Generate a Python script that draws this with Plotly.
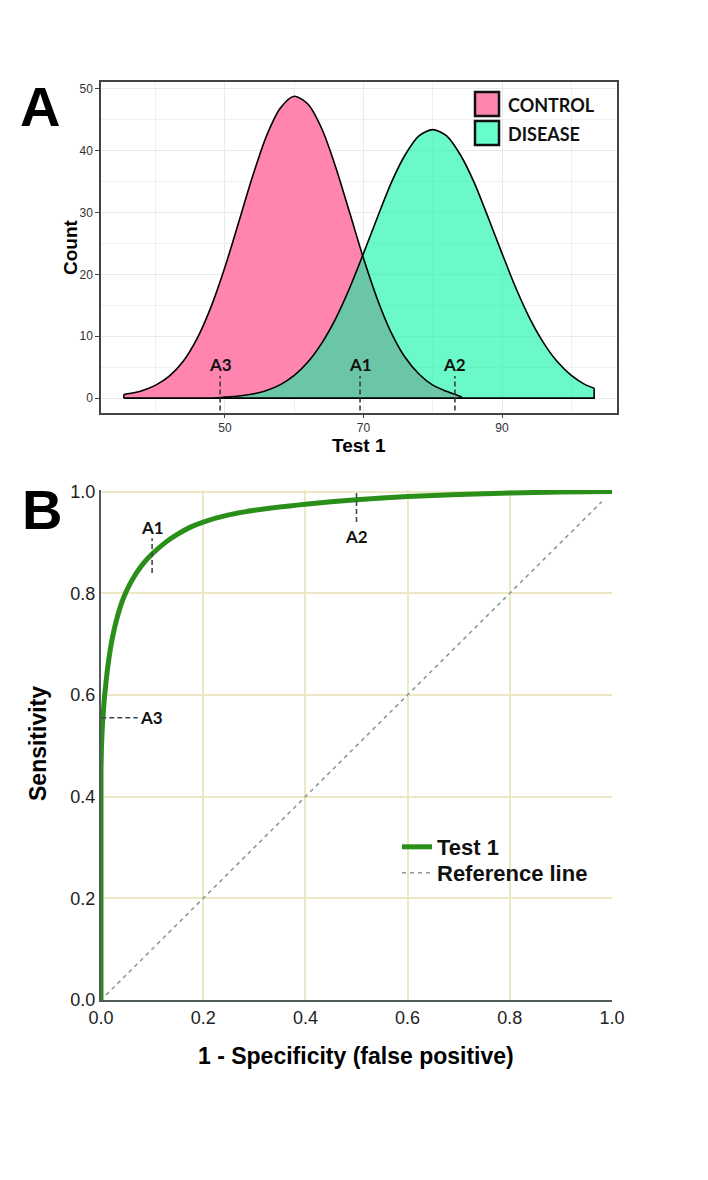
import plotly.graph_objects as go

W, H = 708, 1180
OFF = 8  # page body margin of the html page

# ---------------- Panel A data ----------------
ctrl_x = [35.4, 36, 38, 40, 42, 44, 46, 48, 50, 52, 54, 56, 58, 60, 62, 64, 66, 68, 70, 72, 74, 76, 78, 80, 82, 84.2]
ctrl_y = [0.6, 0.7, 1.2, 2.1, 3.6, 6.0, 9.7, 14.8, 21.2, 28.5, 35.9, 42.4, 46.9, 48.8, 47.5, 43.5, 37.3, 30.0, 22.6, 16.0, 10.6, 6.6, 3.9, 2.1, 1.1, 0.2]
dis_x = [48.5, 50, 52, 54, 56, 58, 60, 62, 64, 66, 68, 70, 72, 74, 76, 78, 80, 82, 84, 86, 88, 90, 92, 94, 96, 98, 100, 102, 103.3]
dis_y = [0.0, 0.17, 0.34, 0.67, 1.24, 2.18, 3.67, 5.87, 8.94, 12.9, 17.8, 23.4, 29.2, 34.8, 39.3, 42.4, 43.4, 42.4, 39.3, 34.8, 29.2, 23.4, 17.8, 12.9, 8.94, 5.87, 3.67, 2.18, 1.6]
a_x_ticks = [50, 70, 90]
a_y_ticks = [0, 10, 20, 30, 40, 50]
a_cut_names = ["A1", "A2", "A3"]
a_cut_x = [69.5, 83.2, 49.3]
a_legend = ["CONTROL", "DISEASE"]

# ---------------- Panel B data ----------------
roc_x = [0, 0, 0.0005, 0.001, 0.002, 0.003, 0.0045, 0.0065, 0.0085, 0.012, 0.016, 0.02, 0.025, 0.03, 0.035,
         0.04, 0.047, 0.055, 0.065, 0.075, 0.085, 0.1, 0.125, 0.15, 0.175, 0.2, 0.25, 0.3, 0.4, 0.5,
         0.6, 0.7, 0.8, 0.9, 1.0]
roc_y = [0, 0.45, 0.48, 0.5, 0.525, 0.545, 0.565, 0.592, 0.612, 0.645, 0.675, 0.7, 0.725, 0.746, 0.764,
         0.78, 0.798, 0.815, 0.833, 0.848, 0.861, 0.877, 0.899, 0.916, 0.93, 0.94, 0.954, 0.963, 0.975, 0.984,
         0.99, 0.994, 0.997, 0.999, 1.0]
ref_x = [0.01, 0.98]
ref_y = [0.01, 0.98]
b_ticks = [0.0, 0.2, 0.4, 0.6, 0.8, 1.0]
b_cut_names = ["A1", "A2", "A3"]

PINK = "rgb(255,133,176)"
GREEN_A = "rgba(0,245,160,0.58)"
LEG_GREEN = "rgb(102,255,204)"
ROC_GREEN = "#2a8f18"
GRIDA = "#e6ebf0"
GRIDB = "#ece8c4"


def px(xp):
    return (xp - OFF) / W


def py(yp):
    return 1 - (yp - OFF) / H


fig = go.Figure()

# Control fill
fig.add_trace(go.Scatter(
    x=ctrl_x, y=ctrl_y, fill="tozeroy", fillcolor=PINK, mode="lines",
    line=dict(width=0, color=PINK, shape="spline", smoothing=0.8),
    xaxis="x", yaxis="y", showlegend=False, hoverinfo="skip"))
# Disease fill with outline
fig.add_trace(go.Scatter(
    x=dis_x, y=dis_y, fill="tozeroy", fillcolor=GREEN_A, mode="lines",
    line=dict(color="black", width=1.6, shape="spline", smoothing=0.8),
    xaxis="x", yaxis="y", showlegend=False, hoverinfo="skip"))
# Control outline on top
fig.add_trace(go.Scatter(
    x=ctrl_x, y=ctrl_y, mode="lines", line=dict(color="black", width=1.6, shape="spline", smoothing=0.8),
    xaxis="x", yaxis="y", showlegend=False, hoverinfo="skip"))
# Baselines / end edges of the two density polygons
fig.add_trace(go.Scatter(
    x=[ctrl_x[0], ctrl_x[0], None, ctrl_x[0], dis_x[-1], dis_x[-1]],
    y=[ctrl_y[0], 0, None, 0, 0, dis_y[-1]], mode="lines",
    line=dict(color="black", width=1.6), xaxis="x", yaxis="y", showlegend=False, hoverinfo="skip"))

# Panel B traces
fig.add_trace(go.Scatter(
    x=ref_x, y=ref_y, mode="lines", name="<b>Reference line</b>",
    line=dict(color="#8c9a9a", width=1.6, dash="4px,4px"),
    xaxis="x2", yaxis="y2", legend="legend2"))
fig.add_trace(go.Scatter(
    x=roc_x, y=roc_y, mode="lines", name="<b>Test 1</b>",
    line=dict(color=ROC_GREEN, width=5, shape="spline", smoothing=0.6),
    xaxis="x2", yaxis="y2", legend="legend"))

shapes = []
annotations = []

# Panel A cut markers
for name, cx in zip(a_cut_names, a_cut_x):
    shapes.append(dict(type="line", xref="x", yref="y", x0=cx, x1=cx, y0=-2.0, y1=3.6,
                       line=dict(color="#3d3d3d", width=1.6, dash="5px,3px")))
    annotations.append(dict(x=cx, y=3.5, xref="x", yref="y", text=f"<b>{name}</b>", showarrow=False,
                            xanchor="center", yanchor="bottom", font=dict(family="Lato", size=17, color="#111")))

# Panel A legend (manual)
leg_fills = [PINK, LEG_GREEN]
leg_y = [92, 121]
for lab, fc, y0 in zip(a_legend, leg_fills, leg_y):
    shapes.append(dict(type="rect", xref="paper", yref="paper", x0=px(475), x1=px(499),
                       y0=py(y0 + 24), y1=py(y0), fillcolor=fc, line=dict(color="#111", width=2.5)))
    annotations.append(dict(x=px(506), y=py(y0 + 13), xref="paper", yref="paper", text=f"<b>{lab}</b>",
                            showarrow=False, xanchor="left", yanchor="middle",
                            font=dict(family="Lato", size=18, color="#111")))

# Panel B cut markers
b_seg = {"A1": (0.1, 0.1, 0.84, 0.908), "A2": (0.5, 0.5, 0.94, 1.005), "A3": (-0.015, 0.072, 0.555, 0.555)}
for name in b_cut_names:
    x0, x1, y0, y1 = b_seg[name]
    shapes.append(dict(type="line", xref="x2", yref="y2", x0=x0, x1=x1, y0=y0, y1=y1,
                       line=dict(color="#3a4a55", width=1.6, dash="5px,3px")))
annotations.append(dict(x=0.1, y=0.905, xref="x2", yref="y2", text="<b>A1</b>", showarrow=False,
                        xanchor="center", yanchor="bottom", font=dict(family="Lato", size=17, color="#111")))
annotations.append(dict(x=0.5, y=0.937, xref="x2", yref="y2", text="<b>A2</b>", showarrow=False,
                        xanchor="center", yanchor="top", font=dict(family="Lato", size=17, color="#111")))
annotations.append(dict(x=0.072, y=0.555, xref="x2", yref="y2", text="<b>A3</b>", showarrow=False,
                        xanchor="left", yanchor="middle", font=dict(family="Lato", size=17, color="#111")))

# Panel letters
annotations.append(dict(x=px(40), y=py(106), xref="paper", yref="paper", text="<b>A</b>", showarrow=False,
                        xanchor="center", yanchor="middle",
                        font=dict(family="Liberation Sans", size=56, color="black")))
annotations.append(dict(x=px(42), y=py(509), xref="paper", yref="paper", text="<b>B</b>", showarrow=False,
                        xanchor="center", yanchor="middle",
                        font=dict(family="Liberation Sans", size=56, color="black")))

# Axis titles
annotations.append(dict(x=px(71), y=py(247), xref="paper", yref="paper", text="<b>Count</b>", showarrow=False,
                        xanchor="center", yanchor="middle", textangle=-90,
                        font=dict(family="Liberation Sans", size=19, color="black")))
annotations.append(dict(x=px(359), y=py(445), xref="paper", yref="paper", text="<b>Test 1</b>", showarrow=False,
                        xanchor="center", yanchor="middle",
                        font=dict(family="Liberation Sans", size=19, color="black")))
annotations.append(dict(x=px(38), y=py(744), xref="paper", yref="paper", text="<b>Sensitivity</b>", showarrow=False,
                        xanchor="center", yanchor="middle", textangle=-90,
                        font=dict(family="Liberation Sans", size=23, color="black")))
annotations.append(dict(x=px(356), y=py(1056), xref="paper", yref="paper", text="<b>1 - Specificity (false positive)</b>",
                        showarrow=False, xanchor="center", yanchor="middle",
                        font=dict(family="Liberation Sans", size=23, color="black")))

fig.update_layout(
    width=W, height=H, margin=dict(l=0, r=0, t=0, b=0),
    paper_bgcolor="white", plot_bgcolor="white",
    font=dict(family="Liberation Sans", color="#222"),
    shapes=shapes, annotations=annotations,
    xaxis=dict(domain=[px(101), px(617)], anchor="y", range=[32.1, 106.6], automargin=False,
               tickvals=a_x_ticks, showline=True, mirror=True, linecolor="#444", linewidth=1.5,
               ticks="outside", ticklen=3, tickcolor="#444", tickfont=dict(size=12, color="#333"),
               showgrid=True, gridcolor=GRIDA, gridwidth=1, zeroline=False,
               minor=dict(tickvals=[40, 60, 80, 100], showgrid=True, gridcolor="#eef1f4", ticks="")),
    yaxis=dict(domain=[py(413), py(82)], anchor="x", range=[-2.4, 51.1], automargin=False,
               tickvals=a_y_ticks, showline=True, mirror=True, linecolor="#444", linewidth=1.5,
               ticks="outside", ticklen=4, tickcolor="#444", tickfont=dict(size=12, color="#333"),
               showgrid=True, gridcolor=GRIDA, gridwidth=1, zeroline=False,
               minor=dict(tickvals=[5, 15, 25, 35, 45], showgrid=True, gridcolor="#eef1f4", ticks="")),
    xaxis2=dict(domain=[px(101), px(612)], anchor="y2", range=[0, 1.0], automargin=False,
                tickvals=b_ticks, tickformat=".1f", showline=True, linecolor="#505a5a", linewidth=2,
                ticks="", tickfont=dict(size=18, color="#222"),
                showgrid=True, gridcolor=GRIDB, gridwidth=1.5, zeroline=False),
    yaxis2=dict(domain=[py(1000), py(490)], anchor="x2", range=[0, 1.003], automargin=False,
                tickvals=b_ticks, tickformat=".1f", showline=True, linecolor="#505a5a", linewidth=2,
                ticks="", tickfont=dict(size=18, color="#222"),
                showgrid=True, gridcolor=GRIDB, gridwidth=1.5, zeroline=False),
    legend=dict(x=px(397), y=py(847), xanchor="left", yanchor="middle", bgcolor="rgba(0,0,0,0)",
                font=dict(family="Liberation Sans", size=22, color="#111")),
    legend2=dict(x=px(397), y=py(873), xanchor="left", yanchor="middle", bgcolor="rgba(0,0,0,0)",
                 font=dict(family="Liberation Sans", size=22, color="#111")),
    showlegend=True,
)

fig.write_html("out.html")
